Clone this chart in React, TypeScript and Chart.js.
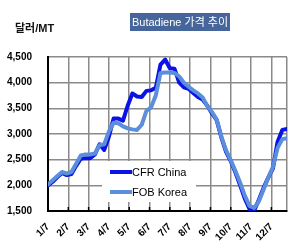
import React, { useEffect, useRef } from "react";
import { Chart, registerables } from "chart.js";

Chart.register(...registerables);

const monthLabels = ["1/7", "2/7", "3/7", "4/7", "5/7", "6/7", "7/7", "8/7", "9/7", "10/7", "11/7", "12/7"];
const yTicks = [1500, 2000, 2500, 3000, 3500, 4000, 4500];

// weekly prices (USD/MT), 52 weeks starting 1/7
const cfrChina = [
  2000, 2070, 2160, 2240, 2200, 2220, 2380, 2520, 2530, 2530,
  2600, 2800, 2690, 2950, 3300, 3300, 3260, 3550, 3790, 3730,
  3720, 3840, 3850, 3900, 4350, 4450, 4280, 4270, 4000, 3910,
  3880, 3800, 3720, 3670, 3550, 3400, 3270, 2930, 2650, 2470,
  2250, 2000, 1740, 1540, 1510, 1720, 1950, 2150, 2330, 2850,
  3080, 3100,
];
const fobKorea = [
  2020, 2100, 2180, 2260, 2230, 2260, 2420, 2580, 2600, 2600,
  2620, 2780, 2800, 3050, 3220, 3210, 3150, 3110, 3090, 3080,
  3180, 3450, 3520, 3750, 4190, 4200, 4200, 4190, 4120, 4000,
  3920, 3850, 3790, 3710, 3540, 3430, 3280, 2950, 2680, 2490,
  2280, 2050, 1800, 1600, 1560, 1690, 1920, 2150, 2360, 2730,
  2900, 2920,
];

const seriesNames = ["CFR China", "FOB Korea"];
const seriesColors = ["#0a12e6", "#5b8edb"];
const titleText = "Butadiene 가격 추이";
const unitText = "달러/MT";

const FONT = '"Liberation Sans", Arial, "Noto Sans CJK KR", sans-serif';

function weekPoints(values: number[]) {
  // each weekly sample placed in month units (52 weeks per 12 months)
  return values.map((v, i) => ({ x: (i * 12) / 52, y: v }));
}

const decorPlugin = {
  id: "decor",
  beforeDatasetsDraw(chart: any) {
    const ctx = chart.ctx as CanvasRenderingContext2D;
    const area = chart.chartArea;
    const xs = chart.scales.x;
    ctx.save();
    ctx.strokeStyle = "#000";
    ctx.lineWidth = 1.5;
    for (let m = 1; m < monthLabels.length; m++) {
      const px = xs.getPixelForValue(m);
      ctx.beginPath();
      ctx.moveTo(px, area.bottom);
      ctx.lineTo(px, area.bottom - 4);
      ctx.stroke();
    }
    ctx.fillStyle = "#fff";
    ctx.fillRect(102, 161, 94, 41);
    const rows = [172, 192];
    seriesNames.forEach((name, i) => {
      ctx.strokeStyle = seriesColors[i];
      ctx.lineWidth = 4;
      ctx.beginPath();
      ctx.moveTo(110, rows[i]);
      ctx.lineTo(132, rows[i]);
      ctx.stroke();
      ctx.fillStyle = "#000";
      ctx.font = `11px ${FONT}`;
      ctx.textAlign = "left";
      ctx.textBaseline = "middle";
      ctx.fillText(name, 132, rows[i] + 0.5);
    });
    ctx.restore();
  },
  afterDraw(chart: any) {
    const ctx = chart.ctx as CanvasRenderingContext2D;
    ctx.save();
    ctx.fillStyle = "#46659a";
    ctx.fillRect(130, 13, 100, 18);
    ctx.fillStyle = "#fff";
    ctx.font = `11px ${FONT}`;
    ctx.textAlign = "center";
    ctx.textBaseline = "middle";
    ctx.fillText(titleText, 180, 22.5);
    ctx.fillStyle = "#111";
    ctx.textAlign = "left";
    ctx.font = `bold 11px ${FONT}`;
    ctx.fillText(unitText, 15, 29);
    ctx.restore();
  },
};

export default function App() {
  const ref = useRef<HTMLCanvasElement | null>(null);
  useEffect(() => {
    document.body.style.margin = "0";
    if (!ref.current) return;
    const chart = new Chart(ref.current, {
      type: "line",
      data: {
        datasets: [
          {
            label: seriesNames[0],
            data: weekPoints(cfrChina),
            borderColor: seriesColors[0],
            backgroundColor: seriesColors[0],
            borderWidth: 4,
            pointRadius: 0,
            tension: 0,
            order: 1,
            borderJoinStyle: "round",
            borderCapStyle: "round",
          },
          {
            label: seriesNames[1],
            data: weekPoints(fobKorea),
            borderColor: seriesColors[1],
            backgroundColor: seriesColors[1],
            borderWidth: 4,
            pointRadius: 0,
            tension: 0,
            order: 0,
            borderJoinStyle: "round",
            borderCapStyle: "round",
          },
        ],
      },
      options: {
        responsive: false,
        animation: false,
        layout: { padding: { top: 57, right: 20, left: 0, bottom: 0 } },
        plugins: { legend: { display: false }, tooltip: { enabled: false }, title: { display: false } },
        scales: {
          x: {
            type: "linear",
            min: 0,
            max: (51 * 12) / 52,
            afterBuildTicks: (axis: any) => {
              const t = monthLabels.map((_, i) => ({ value: i }));
              t.push({ value: (51 * 12) / 52 });
              axis.ticks = t;
            },
            afterFit: (axis: any) => {
              axis.height = 41;
            },
            ticks: {
              autoSkip: false,
              maxRotation: 45,
              minRotation: 45,
              padding: 10,
              color: "#000",
              font: { family: FONT, size: 10, weight: "bold" },
              callback: (_v: any, i: number) => monthLabels[i] ?? "",
            },
            grid: { color: "#8a8a8a", lineWidth: 1.5, drawTicks: false },
            border: { display: true, color: "#000", width: 2 },
          },
          y: {
            min: 1500,
            max: 4500,
            afterBuildTicks: (axis: any) => {
              axis.ticks = yTicks.map((v) => ({ value: v }));
            },
            afterFit: (axis: any) => {
              axis.width = 48;
            },
            ticks: {
              padding: 16,
              color: "#000",
              font: { family: FONT, size: 10, weight: "bold" },
              callback: (v: any) => Number(v).toLocaleString("en-US"),
            },
            grid: { color: "#8a8a8a", lineWidth: 1.5, drawTicks: false },
            border: { display: true, color: "#000", width: 2 },
          },
        },
      },
      plugins: [decorPlugin],
    } as any);
    return () => chart.destroy();
  }, []);
  return (
    <div style={{ width: 307, height: 252 }}>
      <canvas ref={ref} width={307} height={252} />
    </div>
  );
}
